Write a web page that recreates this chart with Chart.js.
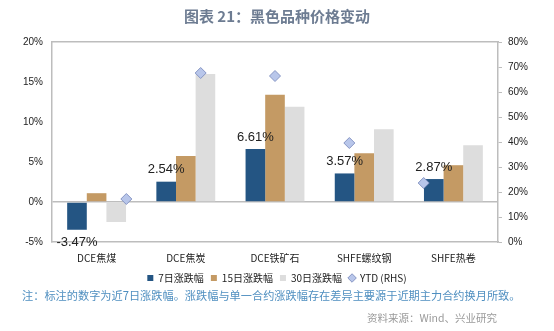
<!DOCTYPE html>
<html>
<head>
<meta charset="utf-8">
<script src="https://cdn.jsdelivr.net/npm/chart.js@4.4.0/dist/chart.umd.min.js"></script>
<style>
  body { margin: 0; background: #fff; }
  #wrap { position: relative; width: 554px; height: 331px; }
  #note { position: absolute; left: 22px; top: 287px; font: 11.2px "Noto Sans CJK SC", sans-serif; color: #4f8fc0; white-space: nowrap; }
  #src { position: absolute; right: 57px; top: 310px; font: 10.5px "Noto Sans CJK SC", sans-serif; color: #9a9a9a; }
</style>
</head>
<body>
<div id="wrap">
  <canvas id="myChart" width="554" height="331"></canvas>
  <div id="note">注：标注的数字为近7日涨跌幅。涨跌幅与单一合约涨跌幅存在差异主要源于近期主力合约换月所致。</div>
  <div id="src">资料来源：Wind、兴业研究</div>
</div>
<script>
// categories + series (%)
let labels = ['DCE焦煤', 'DCE焦炭', 'DCE铁矿石', 'SHFE螺纹钢', 'SHFE热卷']
let chg7 = [-3.47, 2.54, 6.61, 3.57, 2.87]
let chg15 = [1.1, 5.75, 13.4, 6.1, 4.6]
let chg30 = [-2.5, 16.0, 11.9, 9.1, 7.1]
let ytd = [17.2, 67.6, 66.4, 39.6, 23.6]
// YTD diamonds sit on their own (secondary) x axis, 1..5 of 0..6
let ytdPos = [1, 2, 3, 4, 5]

let font = 'Liberation Sans, Arial, sans-serif'
let cjk = '"Noto Sans CJK SC", sans-serif'

// v4.4+ splits bar groups per x axis id of *every* dataset; the YTD points
// live on x2 so that would halve the bars. Only one x axis has bars here.
if (Chart.BarController && Chart.BarController.prototype._getAxisCount) {
  Chart.BarController.prototype._getAxisCount = function () { return 1 }
}

// label the 7-day bars
const valueLabels = {
  id: 'valueLabels',
  afterDatasetsDraw(chart) {
    let ctx = chart.ctx
    let meta = chart.getDatasetMeta(0)
    ctx.save()
    ctx.font = '13px ' + font
    ctx.fillStyle = '#222'
    ctx.textAlign = 'center'
    ctx.textBaseline = 'middle'
    meta.data.forEach((el, i) => {
      let v = chg7[i]
      let y = v >= 0 ? el.y - 12 : el.y + 13
      ctx.fillText(v.toFixed(2) + '%', el.x, y)
    })
    ctx.restore()
  }
}

let ctx = document.getElementById('myChart').getContext('2d')
let myChart = new Chart(ctx, {
  data: {
    labels: labels,
    datasets: [
      { type: 'bar', label: '7日涨跌幅', data: chg7, backgroundColor: '#245583', pointStyle: 'rect', order: 2 },
      { type: 'bar', label: '15日涨跌幅', data: chg15, backgroundColor: '#c49a64', pointStyle: 'rect', order: 2 },
      { type: 'bar', label: '30日涨跌幅', data: chg30, backgroundColor: '#dddddd', pointStyle: 'rect', order: 2 },
      {
        type: 'line', label: 'YTD (RHS)',
        data: ytdPos.map((x, i) => ({ x: x, y: ytd[i] })),
        xAxisID: 'x2', yAxisID: 'y2',
        showLine: false, pointStyle: 'rectRot', pointRadius: 5.5, pointHoverRadius: 5.5,
        backgroundColor: '#b8c6ea', borderColor: '#8796c4', borderWidth: 1, order: 1
      }
    ]
  },
  options: {
    responsive: false,
    animation: false,
    layout: { padding: { left: 4, right: 4, bottom: 38 } },
    datasets: { bar: { barPercentage: 1, categoryPercentage: 0.66 } },
    plugins: {
      title: {
        display: true, text: '图表 21：黑色品种价格变动',
        color: '#6d7c92', font: { family: cjk, size: 15, weight: 'bold' },
        padding: { top: 7, bottom: 2 }
      },
      legend: {
        position: 'bottom',
        labels: {
          usePointStyle: true, boxWidth: 6, boxHeight: 6, padding: 7,
          color: '#222', font: { family: cjk, size: 10 },
          sort: (a, b) => a.datasetIndex - b.datasetIndex
        }
      },
      tooltip: { enabled: false }
    },
    scales: {
      x: {
        grid: { display: false, drawTicks: false },
        border: { color: '#bdbdbd', width: 1.5 },
        ticks: { color: '#222', font: { family: cjk, size: 10 }, padding: 10 },
        afterFit(s) { s.height = 24 }
      },
      x2: {
        type: 'linear', position: 'top', min: 0, max: 6, offset: false,
        grid: { display: false },
        border: { color: '#bdbdbd', width: 1.5 },
        ticks: { display: false },
        afterFit(s) { s.height = 15 }
      },
      y: {
        position: 'left', min: -5, max: 20,
        ticks: { stepSize: 5, callback: v => v + '%', color: '#222', font: { family: font, size: 10 }, padding: 9 },
        grid: {
          color: c => c.tick && c.tick.value === 0 ? '#bdbdbd' : 'rgba(0,0,0,0)',
          lineWidth: 1.5, drawTicks: false
        },
        border: { color: '#bdbdbd', width: 1.5 },
        afterFit(s) { s.width = 48 }
      },
      y2: {
        position: 'right', min: 0, max: 80,
        ticks: { stepSize: 10, callback: v => v + '%', color: '#222', font: { family: font, size: 10 }, padding: 6 },
        grid: { drawOnChartArea: false, drawTicks: true, tickLength: 4, tickColor: '#bdbdbd' },
        border: { color: '#bdbdbd', width: 1.5 },
        afterFit(s) { s.width = 52 }
      }
    }
  },
  plugins: [valueLabels]
})
</script>
</body>
</html>
